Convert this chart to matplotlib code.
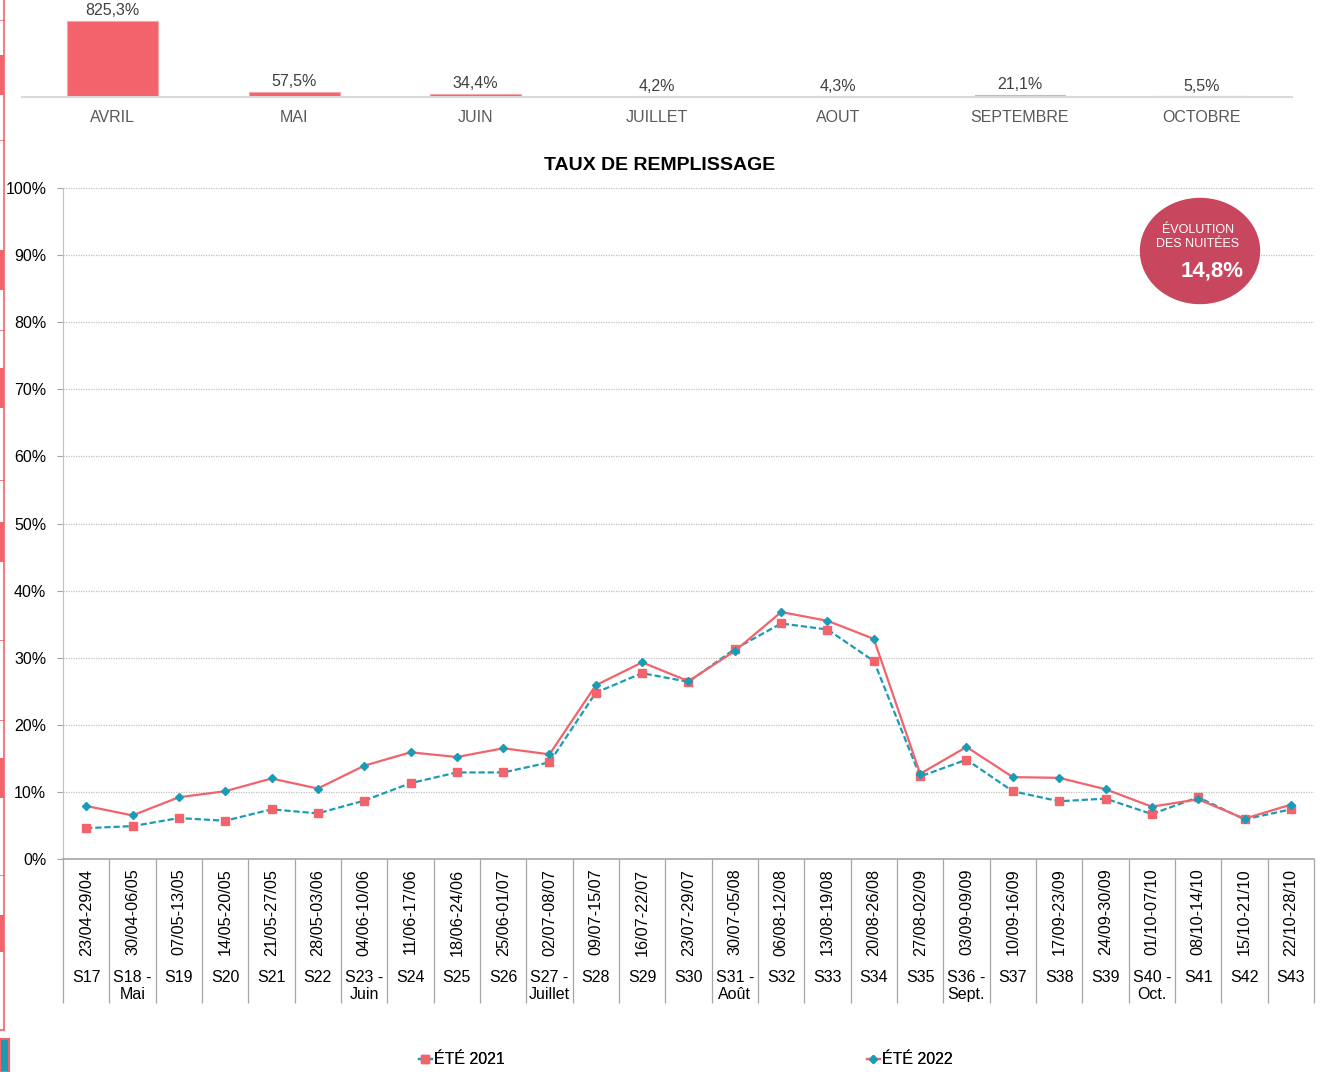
import numpy as np
import matplotlib
matplotlib.use("Agg")
import matplotlib.pyplot as plt
from matplotlib.patches import Ellipse, Rectangle
from matplotlib.lines import Line2D

plt.rcParams['font.family'] = ['Liberation Sans', 'DejaVu Sans']

RED = '#F2636B'
TEAL = '#1A9CB4'
BADGE = '#C8465E'

# monthly evolution (top strip)
months = ['AVRIL', 'MAI', 'JUIN', 'JUILLET', 'AOUT', 'SEPTEMBRE', 'OCTOBRE']
month_evol = [825.3, 57.5, 34.4, 4.2, 4.3, 21.1, 5.5]

# weekly occupancy
weeks = ['S17', 'S18 -\nMai', 'S19', 'S20', 'S21', 'S22', 'S23 -\nJuin', 'S24',
         'S25', 'S26', 'S27 -\nJuillet', 'S28', 'S29', 'S30', 'S31 -\nAoût',
         'S32', 'S33', 'S34', 'S35', 'S36 -\nSept.', 'S37', 'S38', 'S39',
         'S40 -\nOct.', 'S41', 'S42', 'S43']
dates = ['23/04-29/04', '30/04-06/05', '07/05-13/05', '14/05-20/05', '21/05-27/05',
         '28/05-03/06', '04/06-10/06', '11/06-17/06', '18/06-24/06', '25/06-01/07',
         '02/07-08/07', '09/07-15/07', '16/07-22/07', '23/07-29/07', '30/07-05/08',
         '06/08-12/08', '13/08-19/08', '20/08-26/08', '27/08-02/09', '03/09-09/09',
         '10/09-16/09', '17/09-23/09', '24/09-30/09', '01/10-07/10', '08/10-14/10',
         '15/10-21/10', '22/10-28/10']
ete_2021 = [4.6, 4.9, 6.1, 5.7, 7.4, 6.8, 8.7, 11.3, 12.9, 12.9, 14.4, 24.8, 27.7,
            26.4, 31.3, 35.1, 34.2, 29.5, 12.3, 14.8, 10.1, 8.6, 9.0, 6.7, 9.2, 5.9, 7.4]
ete_2022 = [7.9, 6.5, 9.2, 10.1, 12.0, 10.5, 13.9, 15.9, 15.2, 16.5, 15.6, 25.9, 29.3,
            26.5, 31.0, 36.8, 35.5, 32.8, 12.7, 16.7, 12.2, 12.1, 10.4, 7.8, 8.9, 6.0, 8.1]
evol_nuitees = 14.8

W, H = 1326, 1072
fig = plt.figure(figsize=(W / 100, H / 100), dpi=100)


def box(x0, y0, x1, y1):
    return [x0 / W, 1 - y1 / H, (x1 - x0) / W, (y1 - y0) / H]


def pct(v):
    return f"{v:.1f}".replace('.', ',') + '%'


# --- top strip: monthly evolution bars
ax_top = fig.add_axes(box(22, 0, 1292, 97))
xm = np.arange(len(months))
ax_top.bar(xm, month_evol, width=0.5, color=RED, edgecolor='#F8A3A7', linewidth=0.8)
for i, v in enumerate(month_evol):
    ax_top.annotate(pct(v), (i, v), xytext=(0, 2), textcoords='offset points',
                    ha='center', va='bottom', fontsize=11.5, color='#404040',
                    annotation_clip=False)
ax_top.set_xlim(-0.5, len(months) - 0.5)
ax_top.set_ylim(0, 1053)
ax_top.set_xticks(xm)
ax_top.set_xticklabels(months, fontsize=11.5, color='#595959')
ax_top.tick_params(axis='x', length=0, pad=9)
ax_top.set_yticks([])
for s in ['top', 'left', 'right']:
    ax_top.spines[s].set_visible(False)
ax_top.spines['bottom'].set_color('#D9D9D9')
ax_top.spines['bottom'].set_linewidth(1.5)

# --- main chart
ax = fig.add_axes(box(63, 188, 1314, 859))
x = np.arange(len(weeks))
ax.plot(x, ete_2021, color=TEAL, lw=1.6, dashes=(2.8, 1.3), marker='s', ms=6,
        mfc=RED, mec=RED, zorder=3)
ax.plot(x, ete_2022, color=RED, lw=1.6, marker='D', ms=4, mfc=TEAL, mec=TEAL, zorder=4)

ax.set_xlim(-0.5, len(weeks) - 0.5)
ax.set_ylim(0, 100)
ax.set_yticks(np.arange(0, 101, 10))
ax.set_yticklabels([f"{v}%" for v in range(0, 101, 10)], fontsize=11.5)
ax.tick_params(axis='y', length=4, color='#A6A6A6', pad=8)
ax.grid(axis='y', color='#C0C0C0', lw=0.9, ls=(0, (1, 1)))
ax.set_axisbelow(True)

ax.set_xticks(x)
ax.set_xticklabels(dates, rotation=90, fontsize=11.7)
ax.tick_params(axis='x', which='major', length=0, pad=7)
ax.set_xticks(np.arange(-0.5, len(weeks), 1), minor=True)
ax.tick_params(axis='x', which='minor', length=104, width=0.9, color='#A6A6A6')
for i, w in enumerate(weeks):
    ax.annotate(w, (i, 0), xycoords=('data', 'axes fraction'), xytext=(0, -80),
                textcoords='offset points', ha='center', va='top', fontsize=11.5,
                linespacing=1.12, annotation_clip=False)

for s in ['top', 'right']:
    ax.spines[s].set_visible(False)
ax.spines['left'].set_color('#C0C0C0')
ax.spines['left'].set_linestyle((0, (1, 1)))
ax.spines['bottom'].set_color('#A6A6A6')
ax.spines['bottom'].set_linewidth(1.2)

fig.text(660 / W, 1 - 165 / H, 'TAUX DE REMPLISSAGE', ha='center', va='center',
         fontsize=14, fontweight='bold')

# badge
fig.add_artist(Ellipse((1200 / W, 1 - 251 / H), 119 / W, 105 / H,
                       transform=fig.transFigure, color=BADGE, zorder=5))
fig.text(1198 / W, 1 - 237 / H, 'ÉVOLUTION\nDES NUITÉES', ha='center', va='center',
         fontsize=9, color='white', linespacing=1.15, zorder=6)
fig.text(1212 / W, 1 - 271 / H, pct(evol_nuitees), ha='center', va='center',
         fontsize=16, fontweight='bold', color='white', zorder=6)

# legend
h21 = Line2D([], [], color=TEAL, lw=1.6, marker='s', ms=6, mfc=RED, mec=RED)
h22 = Line2D([], [], color=RED, lw=1.6, marker='D', ms=4, mfc=TEAL, mec=TEAL)
for h, lab, xp in [(h21, 'ÉTÉ 2021', 419), (h22, 'ÉTÉ 2022', 867)]:
    leg = fig.legend([h], [lab], loc='center left', bbox_to_anchor=(xp / W, 1 - 1060 / H),
                     frameon=False, fontsize=11.5, handlelength=0.8, handletextpad=0.15,
                     borderpad=0, borderaxespad=0)
    fig.add_artist(leg)

# slice of the neighbouring panel on the left edge
fig.add_artist(Line2D([4 / W, 4 / W], [1 - 1030 / H, 1], transform=fig.transFigure,
                      color=RED, lw=1.2))
fig.add_artist(Line2D([0, 4 / W], [1 - 1030 / H, 1 - 1030 / H], transform=fig.transFigure,
                      color=RED, lw=1.2))
for y0, y1 in [(55, 95), (250, 290), (368, 408), (522, 562), (758, 798), (915, 952)]:
    fig.add_artist(Rectangle((0, 1 - y1 / H), 4 / W, (y1 - y0) / H,
                             transform=fig.transFigure, color=RED, lw=0))
for yl in [20, 140, 330, 480, 640, 720, 875]:
    fig.add_artist(Line2D([0, 4 / W], [1 - yl / H, 1 - yl / H], transform=fig.transFigure,
                          color=RED, lw=0.6))
fig.add_artist(Rectangle((0, 0), 9 / W, 33 / H, transform=fig.transFigure,
                         facecolor=TEAL, edgecolor=RED, lw=1.5))

fig.savefig('out.png', dpi=100)
